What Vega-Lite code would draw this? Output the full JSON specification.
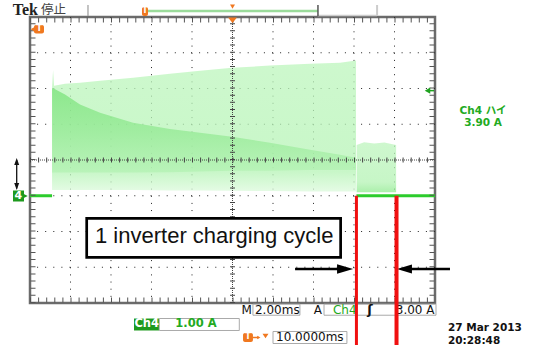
{
  "$schema": "https://vega.github.io/schema/vega-lite/v6.json",
  "width": 405,
  "height": 286,
  "autosize": {"type": "none"},
  "padding": {"left": 30, "top": 17, "right": 102, "bottom": 42},
  "background": "#ffffff",
  "config": {"view": {"stroke": "#6b6b6b", "strokeWidth": 2.5}},
  "datasets": {
    "env1": [
      {"t": 1.09, "top": 3.05, "edge": 3.02, "dense_low": 0.65, "low": 0.16},
      {"t": 1.14, "top": 3.52, "edge": 3.0, "dense_low": 0.65, "low": 0.16},
      {"t": 1.19, "top": 3.08, "edge": 2.99, "dense_low": 0.65, "low": 0.16},
      {"t": 1.73, "top": 3.13, "edge": 2.83, "dense_low": 0.65, "low": 0.16},
      {"t": 2.47, "top": 3.16, "edge": 2.55, "dense_low": 0.65, "low": 0.16},
      {"t": 3.46, "top": 3.22, "edge": 2.32, "dense_low": 0.65, "low": 0.16},
      {"t": 5.09, "top": 3.3, "edge": 2.04, "dense_low": 0.65, "low": 0.16},
      {"t": 6.91, "top": 3.41, "edge": 1.87, "dense_low": 0.66, "low": 0.15},
      {"t": 8.4, "top": 3.5, "edge": 1.76, "dense_low": 0.68, "low": 0.15},
      {"t": 9.98, "top": 3.58, "edge": 1.65, "dense_low": 0.7, "low": 0.14},
      {"t": 11.85, "top": 3.64, "edge": 1.48, "dense_low": 0.7, "low": 0.13},
      {"t": 13.83, "top": 3.69, "edge": 1.29, "dense_low": 0.72, "low": 0.12},
      {"t": 15.31, "top": 3.72, "edge": 1.15, "dense_low": 0.72, "low": 0.12},
      {"t": 16.1, "top": 3.78, "edge": 1.06, "dense_low": 0.72, "low": 0.12}
    ],
    "env2": [
      {"t": 16.13, "top": 1.42, "low": 0.1},
      {"t": 16.5, "top": 1.5, "low": 0.1},
      {"t": 17.0, "top": 1.46, "low": 0.1},
      {"t": 17.5, "top": 1.49, "low": 0.1},
      {"t": 18.08, "top": 1.42, "low": 0.1}
    ],
    "gridx": [{"t": 2}, {"t": 4}, {"t": 6}, {"t": 8}, {"t": 12}, {"t": 14}, {"t": 16}, {"t": 18}],
    "gridy": [{"a": -2}, {"a": -1}, {"a": 0}, {"a": 2}, {"a": 3}, {"a": 4}]
  },
  "layer": [
    {
      "data": {"name": "gridx"},
      "mark": {"type": "rule", "color": "#222222", "strokeWidth": 1, "strokeDash": [1, 6.15]},
      "encoding": {
        "x": {"field": "t", "type": "quantitative", "scale": {"domain": [0, 20], "nice": false, "zero": false}, "axis": null}
      }
    },
    {
      "data": {"name": "gridy"},
      "mark": {"type": "rule", "color": "#222222", "strokeWidth": 1, "strokeDash": [1, 7.1]},
      "encoding": {
        "y": {"field": "a", "type": "quantitative", "scale": {"domain": [-3, 5], "nice": false, "zero": false}, "axis": null}
      }
    },
    {
      "data": {"name": "env1"},
      "mark": {"type": "area", "opacity": 0.75, "fill": {"gradient": "linear", "x1": 0, "y1": 0, "x2": 0, "y2": 1, "stops": [{"offset": 0, "color": "#bdf6bd"}, {"offset": 0.85, "color": "#b6f4b6"}, {"offset": 1, "color": "#dcfadc"}]}},
      "encoding": {
        "x": {"field": "t", "type": "quantitative", "axis": null},
        "y": {"field": "top", "type": "quantitative", "axis": null},
        "y2": {"field": "low"}
      }
    },
    {
      "data": {"name": "env1"},
      "mark": {"type": "area", "opacity": 0.75, "fill": {"gradient": "linear", "x1": 0, "y1": 0, "x2": 0, "y2": 1, "stops": [{"offset": 0, "color": "#78e278"}, {"offset": 0.5, "color": "#92e992"}, {"offset": 1, "color": "#b4f2b4"}]}},
      "encoding": {
        "x": {"field": "t", "type": "quantitative", "axis": null},
        "y": {"field": "edge", "type": "quantitative", "axis": null},
        "y2": {"field": "dense_low"}
      }
    },
    {
      "data": {"name": "env2"},
      "mark": {"type": "area", "opacity": 0.75, "fill": {"gradient": "linear", "x1": 0, "y1": 0, "x2": 0, "y2": 1, "stops": [{"offset": 0, "color": "#bef5be"}, {"offset": 0.8, "color": "#b4f3b4"}, {"offset": 1, "color": "#8fea8f"}]}},
      "encoding": {
        "x": {"field": "t", "type": "quantitative", "axis": null},
        "y": {"field": "top", "type": "quantitative", "axis": null},
        "y2": {"field": "low"}
      }
    },
    {
      "data": {"values": [{"t0": 0, "t1": 1.09, "a": 0}, {"t0": 16.12, "t1": 20, "a": 0}]},
      "mark": {"type": "rule", "color": "#2ccc2c", "strokeWidth": 3},
      "encoding": {
        "x": {"field": "t0", "type": "quantitative", "axis": null},
        "x2": {"field": "t1"},
        "y": {"field": "a", "type": "quantitative", "axis": null}
      }
    },
    {
      "data": {"values": [{"a": 1, "t0": 0, "t1": 20}]},
      "mark": {"type": "rule", "color": "#444444", "strokeWidth": 1, "strokeDash": [1, 1]},
      "encoding": {
        "x": {"field": "t0", "type": "quantitative", "axis": null},
        "x2": {"field": "t1"},
        "y": {"field": "a", "type": "quantitative", "axis": null}
      }
    },
    {
      "data": {"values": [{"a": 1, "t0": 0, "t1": 20}]},
      "mark": {"type": "rule", "color": "#444444", "strokeWidth": 5, "strokeDash": [1, 7.1]},
      "encoding": {
        "x": {"field": "t0", "type": "quantitative", "axis": null},
        "x2": {"field": "t1"},
        "y": {"field": "a", "type": "quantitative", "axis": null}
      }
    },
    {
      "data": {"values": [{"t": 10, "a0": -3, "a1": 5}]},
      "mark": {"type": "rule", "color": "#444444", "strokeWidth": 1, "strokeDash": [1, 1]},
      "encoding": {
        "x": {"field": "t", "type": "quantitative", "axis": null},
        "y": {"field": "a0", "type": "quantitative", "axis": null},
        "y2": {"field": "a1"}
      }
    },
    {
      "data": {"values": [{"t": 10, "a0": -3, "a1": 5}]},
      "mark": {"type": "rule", "color": "#444444", "strokeWidth": 5, "strokeDash": [1, 6.15]},
      "encoding": {
        "x": {"field": "t", "type": "quantitative", "axis": null},
        "y": {"field": "a0", "type": "quantitative", "axis": null},
        "y2": {"field": "a1"}
      }
    },
    {
      "data": {"values": [{"a": 5, "t0": 0, "t1": 20}]},
      "mark": {"type": "rule", "color": "#555555", "strokeWidth": 5, "strokeDash": [1, 7.1], "yOffset": 3},
      "encoding": {
        "x": {"field": "t0", "type": "quantitative", "axis": null},
        "x2": {"field": "t1"},
        "y": {"field": "a", "type": "quantitative", "axis": null}
      }
    },
    {
      "data": {"values": [{"a": -3, "t0": 0, "t1": 20}]},
      "mark": {"type": "rule", "color": "#555555", "strokeWidth": 5, "strokeDash": [1, 7.1], "yOffset": -3},
      "encoding": {
        "x": {"field": "t0", "type": "quantitative", "axis": null},
        "x2": {"field": "t1"},
        "y": {"field": "a", "type": "quantitative", "axis": null}
      }
    },
    {
      "data": {"values": [{"t": 0, "a0": -3, "a1": 5}]},
      "mark": {"type": "rule", "color": "#555555", "strokeWidth": 5, "strokeDash": [1, 6.15], "xOffset": 3},
      "encoding": {
        "x": {"field": "t", "type": "quantitative", "axis": null},
        "y": {"field": "a0", "type": "quantitative", "axis": null},
        "y2": {"field": "a1"}
      }
    },
    {
      "data": {"values": [{"t": 20, "a0": -3, "a1": 5}]},
      "mark": {"type": "rule", "color": "#555555", "strokeWidth": 5, "strokeDash": [1, 6.15], "xOffset": -3},
      "encoding": {
        "x": {"field": "t", "type": "quantitative", "axis": null},
        "y": {"field": "a0", "type": "quantitative", "axis": null},
        "y2": {"field": "a1"}
      }
    },
    {
      "data": {"values": [{"t0": 2.8, "t1": 15.34, "a0": -0.631, "a1": -1.722}]},
      "mark": {"type": "rect", "fill": "#ffffff", "stroke": "#000000", "strokeWidth": 2.7},
      "encoding": {
        "x": {"field": "t0", "type": "quantitative", "axis": null},
        "x2": {"field": "t1"},
        "y": {"field": "a0", "type": "quantitative", "axis": null},
        "y2": {"field": "a1"}
      }
    },
    {
      "data": {"values": [{"t": 3.21, "a": -1.33, "label": "1 inverter charging cycle"}]},
      "mark": {"type": "text", "align": "left", "baseline": "alphabetic", "font": "Liberation Sans", "fontSize": 22, "color": "#111111"},
      "encoding": {
        "x": {"field": "t", "type": "quantitative", "axis": null},
        "y": {"field": "a", "type": "quantitative", "axis": null},
        "text": {"field": "label"}
      }
    },
    {
      "data": {"values": [{"t0": 13.09, "t1": 15.56, "a": -2.049}, {"t0": 18.49, "t1": 20.74, "a": -2.049}]},
      "mark": {"type": "rule", "color": "#000000", "strokeWidth": 2.5},
      "encoding": {
        "x": {"field": "t0", "type": "quantitative", "axis": null},
        "x2": {"field": "t1"},
        "y": {"field": "a", "type": "quantitative", "axis": null}
      }
    },
    {
      "data": {"values": [{"t": 15.56, "a": -2.049}]},
      "mark": {"type": "point", "filled": true, "opacity": 1, "color": "#000000", "shape": "M-1,-0.6L1,0L-1,0.6Z", "size": 256},
      "encoding": {
        "x": {"field": "t", "type": "quantitative", "axis": null},
        "y": {"field": "a", "type": "quantitative", "axis": null}
      }
    },
    {
      "data": {"values": [{"t": 18.49, "a": -2.049}]},
      "mark": {"type": "point", "filled": true, "opacity": 1, "color": "#000000", "shape": "M1,-0.6L-1,0L1,0.6Z", "size": 225},
      "encoding": {
        "x": {"field": "t", "type": "quantitative", "axis": null},
        "y": {"field": "a", "type": "quantitative", "axis": null}
      }
    },
    {
      "data": {"values": [{"t": -0.854, "a": 5.196, "label": "Tek"}]},
      "mark": {"type": "text", "align": "left", "baseline": "middle", "font": "Liberation Serif", "fontWeight": "bold", "fontSize": 16, "color": "#222222"},
      "encoding": {
        "x": {"field": "t", "type": "quantitative", "axis": null},
        "y": {"field": "a", "type": "quantitative", "axis": null},
        "text": {"field": "label"}
      }
    },
    {
      "data": {"values": [{"t": 0.543, "a": 5.182, "label": "停止"}]},
      "mark": {"type": "text", "align": "left", "baseline": "middle", "font": "Noto Sans CJK JP", "fontSize": 12.5, "color": "#444444"},
      "encoding": {
        "x": {"field": "t", "type": "quantitative", "axis": null},
        "y": {"field": "a", "type": "quantitative", "axis": null},
        "text": {"field": "label"}
      }
    },
    {
      "data": {"values": [{"t": 2.864, "a0": 5.336, "a1": 5.03}]},
      "mark": {"type": "rule", "color": "#888888", "strokeWidth": 1},
      "encoding": {
        "x": {"field": "t", "type": "quantitative", "axis": null},
        "y": {"field": "a0", "type": "quantitative", "axis": null},
        "y2": {"field": "a1"}
      }
    },
    {
      "data": {"values": [{"t0": 5.827, "t1": 14.22, "a": 5.17}]},
      "mark": {"type": "rule", "color": "#9bdb9b", "strokeWidth": 2.5},
      "encoding": {
        "x": {"field": "t0", "type": "quantitative", "axis": null},
        "x2": {"field": "t1"},
        "y": {"field": "a", "type": "quantitative", "axis": null}
      }
    },
    {
      "data": {"values": [{"t0": 14.22, "t1": 17.14, "a": 5.04}]},
      "mark": {"type": "rule", "color": "#cccccc", "strokeWidth": 1.5},
      "encoding": {
        "x": {"field": "t0", "type": "quantitative", "axis": null},
        "x2": {"field": "t1"},
        "y": {"field": "a", "type": "quantitative", "axis": null}
      }
    },
    {
      "data": {"values": [{"t": 14.22, "a0": 5.336, "a1": 5.03}]},
      "mark": {"type": "rule", "color": "#555555", "strokeWidth": 1.5},
      "encoding": {
        "x": {"field": "t", "type": "quantitative", "axis": null},
        "y": {"field": "a0", "type": "quantitative", "axis": null},
        "y2": {"field": "a1"}
      }
    },
    {
      "data": {"values": [{"t": 17.14, "a0": 5.336, "a1": 5.03}]},
      "mark": {"type": "rule", "color": "#cccccc", "strokeWidth": 2},
      "encoding": {
        "x": {"field": "t", "type": "quantitative", "axis": null},
        "y": {"field": "a0", "type": "quantitative", "axis": null},
        "y2": {"field": "a1"}
      }
    },
    {
      "data": {"values": [{"t0": 5.53, "t1": 5.827, "a0": 5.28, "a1": 5.03}, {"t0": 0.198, "t1": 0.691, "a0": 4.776, "a1": 4.538}, {"t0": 10.52, "t1": 11.01, "a0": -3.839, "a1": -4.09}]},
      "mark": {"type": "rect", "fill": "#f07820", "cornerRadius": 2},
      "encoding": {
        "x": {"field": "t0", "type": "quantitative", "axis": null},
        "x2": {"field": "t1"},
        "y": {"field": "a0", "type": "quantitative", "axis": null},
        "y2": {"field": "a1"}
      }
    },
    {
      "data": {"values": [{"t": 5.68, "a": 5.155, "label": "T"}, {"t": 0.46, "a": 4.657, "label": "T"}, {"t": 10.765, "a": -3.965, "label": "T"}]},
      "mark": {"type": "text", "align": "center", "baseline": "middle", "font": "DejaVu Sans", "fontWeight": "bold", "fontSize": 8, "color": "#ffffff"},
      "encoding": {
        "x": {"field": "t", "type": "quantitative", "axis": null},
        "y": {"field": "a", "type": "quantitative", "axis": null},
        "text": {"field": "label"}
      }
    },
    {
      "data": {"values": [{"t": 0.15, "a": 4.657}]},
      "mark": {"type": "point", "filled": true, "opacity": 1, "color": "#f07820", "shape": "triangle-left", "size": 30},
      "encoding": {
        "x": {"field": "t", "type": "quantitative", "axis": null},
        "y": {"field": "a", "type": "quantitative", "axis": null}
      }
    },
    {
      "data": {"values": [{"t": 10, "a": 5.29}]},
      "mark": {"type": "point", "filled": true, "opacity": 1, "color": "#f07820", "shape": "triangle-down", "size": 25},
      "encoding": {
        "x": {"field": "t", "type": "quantitative", "axis": null},
        "y": {"field": "a", "type": "quantitative", "axis": null}
      }
    },
    {
      "data": {"values": [{"t": 10, "a": 4.91}]},
      "mark": {"type": "point", "filled": true, "opacity": 1, "color": "#f07820", "shape": "M-1,-0.6L1,-0.6L0,0.6Z", "size": 80},
      "encoding": {
        "x": {"field": "t", "type": "quantitative", "axis": null},
        "y": {"field": "a", "type": "quantitative", "axis": null}
      }
    },
    {
      "data": {"values": [{"t0": 19.63, "t1": 19.95, "a": 2.94}]},
      "mark": {"type": "rule", "color": "#1fa21f", "strokeWidth": 1.5},
      "encoding": {
        "x": {"field": "t0", "type": "quantitative", "axis": null},
        "x2": {"field": "t1"},
        "y": {"field": "a", "type": "quantitative", "axis": null}
      }
    },
    {
      "data": {"values": [{"t": 19.63, "a": 2.94}]},
      "mark": {"type": "point", "filled": true, "opacity": 1, "color": "#1fa21f", "shape": "triangle-left", "size": 40},
      "encoding": {
        "x": {"field": "t", "type": "quantitative", "axis": null},
        "y": {"field": "a", "type": "quantitative", "axis": null}
      }
    },
    {
      "data": {"values": [{"t": 22.37, "a": 2.377, "label": "Ch4 ハイ"}, {"t": 22.37, "a": 2.035, "label": "3.90 A"}]},
      "mark": {"type": "text", "align": "center", "baseline": "middle", "font": "DejaVu Sans, Noto Sans CJK JP", "fontWeight": "bold", "fontSize": 10.5, "color": "#22aa22"},
      "encoding": {
        "x": {"field": "t", "type": "quantitative", "axis": null},
        "y": {"field": "a", "type": "quantitative", "axis": null},
        "text": {"field": "label"}
      }
    },
    {
      "data": {"values": [{"t0": -0.84, "t1": -0.296, "a0": 0.147, "a1": -0.161}, {"t0": 5.136, "t1": 6.385, "a0": -3.434, "a1": -3.769}]},
      "mark": {"type": "rect", "fill": "#1e9a1e"},
      "encoding": {
        "x": {"field": "t0", "type": "quantitative", "axis": null},
        "x2": {"field": "t1"},
        "y": {"field": "a0", "type": "quantitative", "axis": null},
        "y2": {"field": "a1"}
      }
    },
    {
      "data": {"values": [{"t": -0.26, "a": -0.007}]},
      "mark": {"type": "point", "filled": true, "opacity": 1, "color": "#1e9a1e", "shape": "M-1,-1L1,0L-1,1Z", "size": 36},
      "encoding": {
        "x": {"field": "t", "type": "quantitative", "axis": null},
        "y": {"field": "a", "type": "quantitative", "axis": null}
      }
    },
    {
      "data": {"values": [{"t": -0.58, "a": -0.007, "label": "4"}]},
      "mark": {"type": "text", "align": "center", "baseline": "middle", "font": "DejaVu Sans", "fontWeight": "bold", "fontSize": 11, "color": "#ffffff"},
      "encoding": {
        "x": {"field": "t", "type": "quantitative", "axis": null},
        "y": {"field": "a", "type": "quantitative", "axis": null},
        "text": {"field": "label"}
      }
    },
    {
      "data": {"values": [{"t": -0.657, "a0": 1.0, "a1": 0.2}]},
      "mark": {"type": "rule", "color": "#111111", "strokeWidth": 1.3},
      "encoding": {
        "x": {"field": "t", "type": "quantitative", "axis": null},
        "y": {"field": "a0", "type": "quantitative", "axis": null},
        "y2": {"field": "a1"}
      }
    },
    {
      "data": {"values": [{"t": -0.657, "a": 0.958}]},
      "mark": {"type": "point", "filled": true, "opacity": 1, "color": "#111111", "shape": "M0,-1L0.7,1L-0.7,1Z", "size": 50},
      "encoding": {
        "x": {"field": "t", "type": "quantitative", "axis": null},
        "y": {"field": "a", "type": "quantitative", "axis": null}
      }
    },
    {
      "data": {"values": [{"t": -0.657, "a": 0.259}]},
      "mark": {"type": "point", "filled": true, "opacity": 1, "color": "#111111", "shape": "M0,1L0.7,-1L-0.7,-1Z", "size": 50},
      "encoding": {
        "x": {"field": "t", "type": "quantitative", "axis": null},
        "y": {"field": "a", "type": "quantitative", "axis": null}
      }
    },
    {
      "data": {"values": [{"t0": 11.01, "t1": 13.33, "a0": -3.034, "a1": -3.342}, {"t0": 14.52, "t1": 20.05, "a0": -3.034, "a1": -3.342}, {"t0": 6.385, "t1": 10.336, "a0": -3.434, "a1": -3.769}, {"t0": 12.0, "t1": 15.65, "a0": -3.797, "a1": -4.133}]},
      "mark": {"type": "rect", "fill": "#ffffff", "stroke": "#aaaaaa", "strokeWidth": 1},
      "encoding": {
        "x": {"field": "t0", "type": "quantitative", "axis": null},
        "x2": {"field": "t1"},
        "y": {"field": "a0", "type": "quantitative", "axis": null},
        "y2": {"field": "a1"}
      }
    },
    {
      "data": {"values": [{"t": 10.7, "a": -3.2, "label": "M"}, {"t": 14.22, "a": -3.2, "label": "A"}]},
      "mark": {"type": "text", "align": "center", "baseline": "middle", "font": "DejaVu Sans", "fontSize": 12, "color": "#111111"},
      "encoding": {
        "x": {"field": "t", "type": "quantitative", "axis": null},
        "y": {"field": "a", "type": "quantitative", "axis": null},
        "text": {"field": "label"}
      }
    },
    {
      "data": {"values": [{"t": 11.11, "a": -3.2, "label": "2.00ms"}, {"t": 12.15, "a": -3.965, "label": "10.0000ms"}]},
      "mark": {"type": "text", "align": "left", "baseline": "middle", "font": "DejaVu Sans", "fontSize": 12, "color": "#111111"},
      "encoding": {
        "x": {"field": "t", "type": "quantitative", "axis": null},
        "y": {"field": "a", "type": "quantitative", "axis": null},
        "text": {"field": "label"}
      }
    },
    {
      "data": {"values": [{"t": 14.96, "a": -3.2, "label": "Ch4"}]},
      "mark": {"type": "text", "align": "left", "baseline": "middle", "font": "DejaVu Sans", "fontSize": 12, "color": "#22aa22"},
      "encoding": {
        "x": {"field": "t", "type": "quantitative", "axis": null},
        "y": {"field": "a", "type": "quantitative", "axis": null},
        "text": {"field": "label"}
      }
    },
    {
      "data": {"values": [{"t": 16.79, "a": -3.2, "label": "ʃ"}]},
      "mark": {"type": "text", "align": "center", "baseline": "middle", "font": "DejaVu Sans", "fontWeight": "bold", "fontSize": 13, "color": "#111111"},
      "encoding": {
        "x": {"field": "t", "type": "quantitative", "axis": null},
        "y": {"field": "a", "type": "quantitative", "axis": null},
        "text": {"field": "label"}
      }
    },
    {
      "data": {"values": [{"t": 19.975, "a": -3.2, "label": "3.00 A"}]},
      "mark": {"type": "text", "align": "right", "baseline": "middle", "font": "DejaVu Sans", "fontSize": 12, "color": "#111111"},
      "encoding": {
        "x": {"field": "t", "type": "quantitative", "axis": null},
        "y": {"field": "a", "type": "quantitative", "axis": null},
        "text": {"field": "label"}
      }
    },
    {
      "data": {"values": [{"t": 5.763, "a": -3.601, "label": "Ch4"}]},
      "mark": {"type": "text", "align": "center", "baseline": "middle", "font": "DejaVu Sans", "fontWeight": "bold", "fontSize": 11.5, "color": "#ffffff"},
      "encoding": {
        "x": {"field": "t", "type": "quantitative", "axis": null},
        "y": {"field": "a", "type": "quantitative", "axis": null},
        "text": {"field": "label"}
      }
    },
    {
      "data": {"values": [{"t": 8.198, "a": -3.601, "label": "1.00 A"}]},
      "mark": {"type": "text", "align": "center", "baseline": "middle", "font": "DejaVu Sans", "fontWeight": "bold", "fontSize": 11.5, "color": "#22aa22"},
      "encoding": {
        "x": {"field": "t", "type": "quantitative", "axis": null},
        "y": {"field": "a", "type": "quantitative", "axis": null},
        "text": {"field": "label"}
      }
    },
    {
      "data": {"values": [{"t0": 11.01, "t1": 11.3, "a": -3.965}]},
      "mark": {"type": "rule", "color": "#f07820", "strokeWidth": 1.5},
      "encoding": {
        "x": {"field": "t0", "type": "quantitative", "axis": null},
        "x2": {"field": "t1"},
        "y": {"field": "a", "type": "quantitative", "axis": null}
      }
    },
    {
      "data": {"values": [{"t": 11.3, "a": -3.965}]},
      "mark": {"type": "point", "filled": true, "opacity": 1, "color": "#f07820", "shape": "triangle-right", "size": 14},
      "encoding": {
        "x": {"field": "t", "type": "quantitative", "axis": null},
        "y": {"field": "a", "type": "quantitative", "axis": null}
      }
    },
    {
      "data": {"values": [{"t": 11.63, "a": -3.92}]},
      "mark": {"type": "point", "filled": true, "opacity": 1, "color": "#f07820", "shape": "M-1,-0.7L1,-0.7L0,0.8Z", "size": 36},
      "encoding": {
        "x": {"field": "t", "type": "quantitative", "axis": null},
        "y": {"field": "a", "type": "quantitative", "axis": null}
      }
    },
    {
      "data": {"values": [{"t": 20.64, "a": -3.7, "label": "27 Mar  2013"}, {"t": 20.64, "a": -4.055, "label": "20:28:48"}]},
      "mark": {"type": "text", "align": "left", "baseline": "middle", "font": "DejaVu Sans", "fontWeight": "bold", "fontSize": 10.5, "color": "#111111"},
      "encoding": {
        "x": {"field": "t", "type": "quantitative", "axis": null},
        "y": {"field": "a", "type": "quantitative", "axis": null},
        "text": {"field": "label"}
      }
    },
    {
      "data": {"values": [{"t": 16.12, "a0": 0, "a1": -4.3}]},
      "mark": {"type": "rule", "color": "#f01010", "strokeWidth": 3},
      "encoding": {
        "x": {"field": "t", "type": "quantitative", "axis": null},
        "y": {"field": "a0", "type": "quantitative", "axis": null},
        "y2": {"field": "a1"}
      }
    },
    {
      "data": {"values": [{"t": 18.1, "a0": 0, "a1": -4.3}]},
      "mark": {"type": "rule", "color": "#f01010", "strokeWidth": 4},
      "encoding": {
        "x": {"field": "t", "type": "quantitative", "axis": null},
        "y": {"field": "a0", "type": "quantitative", "axis": null},
        "y2": {"field": "a1"}
      }
    }
  ]
}
